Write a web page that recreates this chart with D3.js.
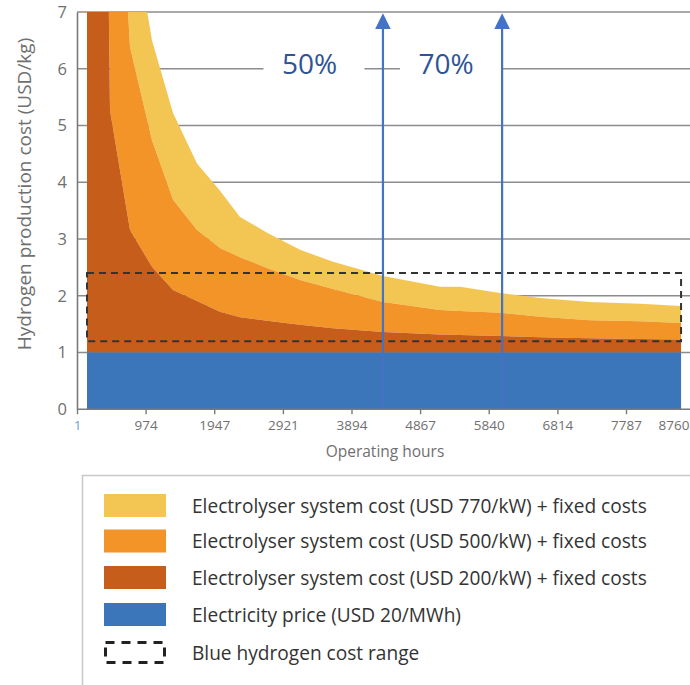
<!DOCTYPE html>
<html>
<head>
<meta charset="utf-8">
<script src="https://cdn.jsdelivr.net/npm/d3@7"></script>
<style>
  html, body { margin: 0; padding: 0; background: #fff; }
  svg { display: block; }
</style>
</head>
<body>
<svg id="chart" width="690" height="685"></svg>
<script>
// Operating hours at which the cost curves are sampled
const hours = [143, 469, 753, 1065, 1363, 1703, 2029, 2313, 2696, 3164, 3632, 4341, 5149, 5433, 6000, 6568, 7277, 7986, 8568];
// Total hydrogen production cost (USD/kg) for each electrolyser system cost
const cost200 = [40, 5.27, 3.16, 2.51, 2.10, 1.91, 1.72, 1.62, 1.56, 1.49, 1.43, 1.36, 1.32, 1.31, 1.29, 1.27, 1.25, 1.24, 1.23];
const cost500 = [95, 12.6, 6.38, 4.74, 3.69, 3.16, 2.84, 2.68, 2.49, 2.28, 2.12, 1.89, 1.75, 1.73, 1.70, 1.63, 1.57, 1.55, 1.52];
const cost770 = [150, 30, 8.8, 6.5, 5.22, 4.33, 3.85, 3.39, 3.11, 2.81, 2.60, 2.35, 2.16, 2.16, 2.05, 1.96, 1.89, 1.86, 1.82];
// Electricity share of the cost at USD 20/MWh
const electricityCost = 1.0;
// Blue hydrogen cost range (USD/kg)
const blueRange = [1.2, 2.4];

const xTicks = [1, 974, 1947, 2921, 3894, 4867, 5840, 6814, 7787, 8760];
const yTicks = [0, 1, 2, 3, 4, 5, 6, 7];

// Capacity-factor markers
const markerLabels = ["50%", "70%"];
const markerHours = [4340, 6030];
const markerLabelHours = [3298, 5234];

const legendLabels = [
  "Electrolyser system cost (USD 770/kW) + fixed costs",
  "Electrolyser system cost (USD 500/kW) + fixed costs",
  "Electrolyser system cost (USD 200/kW) + fixed costs",
  "Electricity price (USD 20/MWh)",
  "Blue hydrogen cost range"
];

const colors = {
  c770: "#F3C553",
  c500: "#F29427",
  c200: "#C65D1A",
  elec: "#3B76BA",
  grid: "#8c8c8c",
  axis: "#7a7a7a",
  tick: "#707070",
  marker: "#4472C4",
  markerText: "#2F5496"
};

const svg = d3.select("#chart");
const W = 690;

const x = d3.scaleLinear().domain([1, 8760]).range([77, 694.6]);
const y = d3.scaleLinear().domain([0, 7]).range([409.3, 12]);

const font = "'Open Sans', 'Noto Sans', sans-serif";

// Horizontal gridlines
svg.append("g")
  .selectAll("line")
  .data(yTicks.filter(v => v > 0))
  .join("line")
  .attr("x1", x(1)).attr("x2", W)
  .attr("y1", d => y(d)).attr("y2", d => y(d))
  .attr("stroke", colors.grid)
  .attr("stroke-width", 1.6);

// Clip the steep left part of the curves to the plot
svg.append("clipPath").attr("id", "plotClip")
  .append("rect")
  .attr("x", x(1)).attr("y", y(7))
  .attr("width", W - x(1)).attr("height", y(0) - y(7));

const rows = hours.map((h, i) => ({
  h,
  e: electricityCost,
  c200: cost200[i],
  c500: cost500[i],
  c770: cost770[i]
}));

const band = (lo, hi) => d3.area()
  .x(d => x(d.h))
  .y0(d => y(lo(d)))
  .y1(d => y(hi(d)));

const areas = svg.append("g").attr("clip-path", "url(#plotClip)");
areas.append("path").datum(rows)
  .attr("fill", colors.c770)
  .attr("d", band(d => d.c500, d => d.c770));
areas.append("path").datum(rows)
  .attr("fill", colors.c500)
  .attr("d", band(d => d.c200, d => d.c500));
areas.append("path").datum(rows)
  .attr("fill", colors.c200)
  .attr("d", band(d => d.e, d => d.c200));
areas.append("path").datum(rows)
  .attr("fill", colors.elec)
  .attr("d", band(() => 0, d => d.e));

// Blue hydrogen cost range
svg.append("rect")
  .attr("x", x(hours[0]))
  .attr("y", y(blueRange[1]))
  .attr("width", x(hours[hours.length - 1]) - x(hours[0]))
  .attr("height", y(blueRange[0]) - y(blueRange[1]))
  .attr("fill", "none")
  .attr("stroke", "#333")
  .attr("stroke-width", 2)
  .attr("stroke-dasharray", "7,5");

// Axes
const xAxis = svg.append("g")
  .attr("transform", `translate(0,${y(0)})`)
  .call(d3.axisBottom(x).tickValues(xTicks).tickSize(5).tickPadding(6).tickFormat(d3.format("d")));
xAxis.select(".domain").attr("stroke", colors.axis).attr("stroke-width", 1.6)
  .attr("d", `M${x(1)},0H${W}`);
xAxis.selectAll(".tick line").attr("stroke", colors.axis).attr("stroke-width", 1.4);
xAxis.selectAll(".tick text")
  .attr("fill", (d) => d === 1 ? "#6f9fd8" : colors.tick)
  .style("font-family", font)
  .style("font-size", "13.5px");
// Keep the last label inside the page edge
xAxis.selectAll(".tick text")
  .filter(d => d === xTicks[xTicks.length - 1])
  .attr("text-anchor", "end")
  .attr("x", W - 1 - x(xTicks[xTicks.length - 1]));

const yAxis = svg.append("g")
  .attr("transform", `translate(${x(1)},0)`)
  .call(d3.axisLeft(y).tickValues(yTicks).tickSize(0).tickPadding(10).tickFormat(d3.format("d")));
yAxis.select(".domain").attr("stroke", colors.axis).attr("stroke-width", 1.6);
yAxis.selectAll(".tick text")
  .attr("fill", colors.tick)
  .style("font-family", font)
  .style("font-size", "16.5px");

// Axis titles
svg.append("text")
  .attr("x", 385).attr("y", 457)
  .attr("text-anchor", "middle")
  .attr("fill", colors.tick)
  .style("font-family", font).style("font-size", "15.5px")
  .text("Operating hours");

svg.append("text")
  .attr("transform", `translate(31,194) rotate(-90)`)
  .attr("text-anchor", "middle")
  .attr("fill", colors.tick)
  .style("font-family", font).style("font-size", "19px")
  .text("Hydrogen production cost (USD/kg)");

// Capacity-factor labels with white backing over the gridline
const markerG = svg.append("g");
markerLabels.forEach((lab, i) => {
  const cx = x(markerLabelHours[i]);
  markerG.append("rect")
    .attr("x", cx - 46).attr("y", 44)
    .attr("width", 101).attr("height", 40)
    .attr("fill", "#fff");
  markerG.append("text")
    .attr("x", cx).attr("y", 74)
    .attr("text-anchor", "middle")
    .attr("fill", colors.markerText)
    .style("font-family", font).style("font-size", "28px")
    .text(lab);
});

// Vertical arrows
markerHours.forEach(h => {
  const ax = x(h);
  markerG.append("line")
    .attr("x1", ax).attr("x2", ax)
    .attr("y1", y(0) - 1).attr("y2", 27)
    .attr("stroke", colors.marker)
    .attr("stroke-width", 2.2);
  markerG.append("path")
    .attr("d", `M${ax},${y(7) + 1.3}L${ax + 7.8},29L${ax - 7.8},29Z`)
    .attr("fill", colors.marker);
});

// Legend
const legend = svg.append("g");
legend.append("rect")
  .attr("x", 82.5).attr("y", 475.5)
  .attr("width", 700).attr("height", 300)
  .attr("fill", "none")
  .attr("stroke", "#c8c8c8")
  .attr("stroke-width", 1.5);

const swatchFills = [colors.c770, colors.c500, colors.c200, colors.elec, null];
const rowTops = [494, 529.5, 566, 603, 641];
legendLabels.forEach((lab, i) => {
  const top = rowTops[i];
  if (swatchFills[i]) {
    legend.append("rect")
      .attr("x", 104).attr("y", top)
      .attr("width", 62).attr("height", 23)
      .attr("fill", swatchFills[i]);
  } else {
    legend.append("rect")
      .attr("x", 105.5).attr("y", top + 1.5)
      .attr("width", 59).attr("height", 20)
      .attr("fill", "none")
      .attr("stroke", "#222")
      .attr("stroke-width", 3)
      .attr("stroke-dasharray", "9,7");
  }
  legend.append("text")
    .attr("x", 192).attr("y", top + 18.5)
    .attr("fill", "#333")
    .style("font-family", font).style("font-size", "19.1px")
    .text(lab);
});
</script>
</body>
</html>
